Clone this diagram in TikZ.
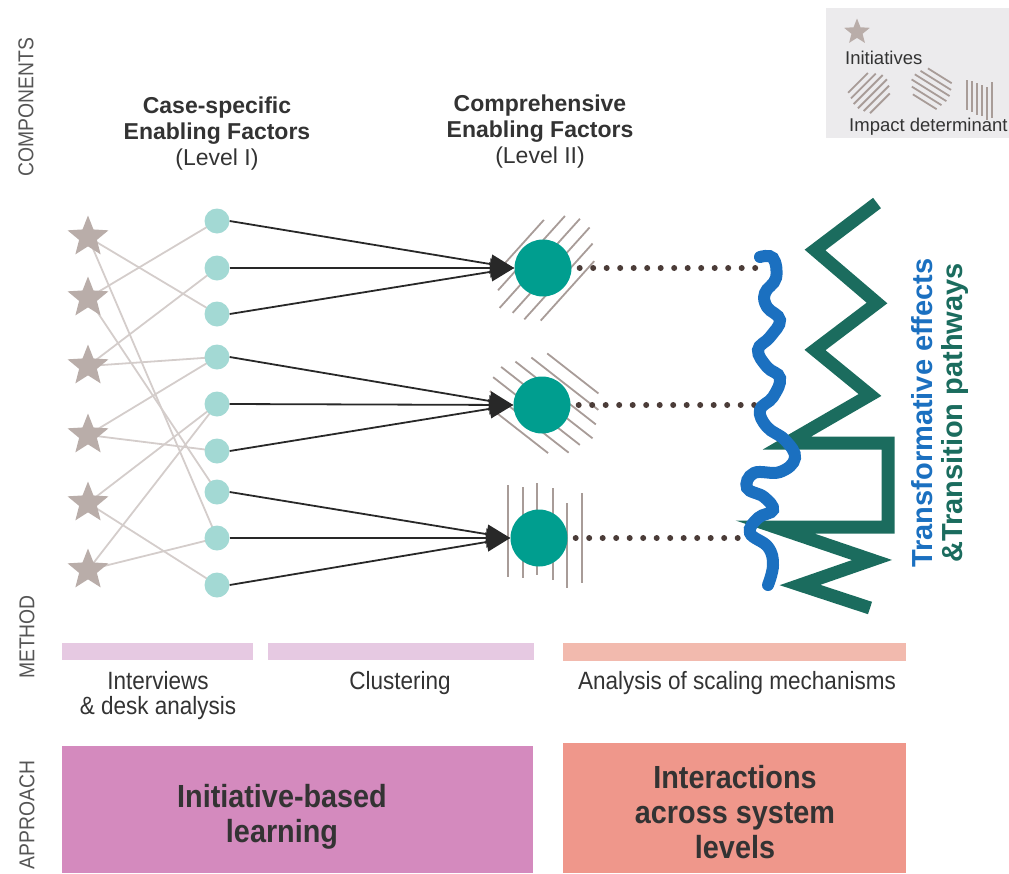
\documentclass[tikz,border=0pt]{standalone}
\usepackage{fontspec}
\setmainfont{Liberation Sans}
\newfontfamily\narrowfont[FakeStretch=0.9]{Liberation Sans}
\usetikzlibrary{arrows.meta,shapes.geometric,calc,backgrounds}
\definecolor{starc}{RGB}{185,173,169}
\definecolor{smallc}{RGB}{163,217,212}
\definecolor{bigc}{RGB}{0,158,143}
\definecolor{hatchc}{RGB}{168,156,152}
\definecolor{linkc}{RGB}{212,205,203}
\definecolor{arrowc}{RGB}{40,40,40}
\definecolor{dotc}{RGB}{75,60,56}
\definecolor{bluec}{RGB}{27,112,192}
\definecolor{greenc}{RGB}{27,108,94}
\definecolor{mpink}{RGB}{230,201,226}
\definecolor{msalmon}{RGB}{242,186,174}
\definecolor{apurple}{RGB}{212,138,190}
\definecolor{asalmon}{RGB}{239,151,139}
\definecolor{textc}{RGB}{51,51,51}
\definecolor{legbg}{RGB}{236,235,237}
\definecolor{sidec}{RGB}{85,85,85}
\tikzset{
  starnode/.style={star, star points=5, star point ratio=2.3, fill=starc, minimum size=43pt, inner sep=0pt},
  smallnode/.style={circle, fill=smallc, minimum size=25pt, inner sep=0pt},
  bignode/.style={circle, fill=bigc, minimum size=57pt, inner sep=0pt},
  link/.style={draw=linkc, line width=1.8pt},
  arr/.style={draw=arrowc, line width=1.8pt, -{Triangle[length=24pt,width=19pt]}},
  hatch/.style={draw=hatchc, line width=1.8pt},
  dotline/.style={draw=dotc, line width=6pt, line cap=round, dash pattern=on 0pt off 13.5pt, shorten <=8pt},
  hdr/.style={align=center, text=textc, font=\fontsize{23}{26}\selectfont, inner sep=0pt},
  side/.style={rotate=90, text=sidec, font=\narrowfont\fontsize{21.5}{24}\selectfont, inner sep=0pt},
  mlabel/.style={align=center, text=textc, font=\narrowfont\fontsize{25}{25}\selectfont, inner sep=0pt},
  alabel/.style={align=center, text=textc, font=\narrowfont\bfseries\fontsize{32}{35}\selectfont, inner sep=0pt},
}
\begin{document}
\begin{tikzpicture}[x=1pt,y=-1pt]
\useasboundingbox (0,0) rectangle (1009,873);
% side labels
\node[side] (lcomp) at (26,107) {COMPONENTS};
\node[side] (lmeth) at (27,637) {METHOD};
\node[side] (lappr) at (27,815) {APPROACH};
% headers
\node[hdr] (h1) at (217,134) {\textbf{Case-specific}\\\textbf{Enabling Factors}\\(Level I)};
\node[hdr] (h2) at (540,132) {\textbf{Comprehensive}\\\textbf{Enabling Factors}\\(Level II)};
% legend
\fill[legbg] (826,8) rectangle (1009,138);
\node[star, star points=5, star point ratio=2.3, fill=starc, minimum size=27pt, inner sep=0pt] (lstar) at (857,32) {};
\node[anchor=west, text=textc, font=\fontsize{18.5}{20}\selectfont, inner sep=0pt] (linit) at (845,58) {Initiatives};
\node[anchor=west, text=textc, font=\fontsize{18.5}{20}\selectfont, inner sep=0pt] (limp) at (849,127) {Impact determinant};
\begin{scope}[shift={(870,92)}, rotate=-45]
  \foreach \x/\a/\b in {-15/-12/16, -9/-17/18, -3/-21/20, 3/-21/20, 9/-18/18, 15/-13/15} \draw[hatch] (\x,\a) -- (\x,\b);
\end{scope}
\begin{scope}[shift={(931,88)}, rotate=58]
  \foreach \x/\a/\b in {-15/-12/16, -9/-17/18, -3/-21/20, 3/-21/20, 9/-18/18, 15/-13/15} \draw[hatch] (\x,\a) -- (\x,\b);
\end{scope}
\begin{scope}[shift={(980,98)}]
  \foreach \x/\a/\b in {-13/-18/12, -8/-17/14, -3/-15/17, 2/-13/18, 7/-11/22, 12/-16/20} \draw[hatch] (\x,\a) -- (\x,\b);
\end{scope}
% stars
\node[starnode] (s1) at (88,237) {};
\node[starnode] (s2) at (88,298) {};
\node[starnode] (s3) at (88,366) {};
\node[starnode] (s4) at (88,435) {};
\node[starnode] (s5) at (88,503) {};
\node[starnode] (s6) at (88,570) {};
% small circles
\node[smallnode] (c1) at (217,221) {};
\node[smallnode] (c2) at (217,268) {};
\node[smallnode] (c3) at (217,314) {};
\node[smallnode] (c4) at (217,357) {};
\node[smallnode] (c5) at (217,404) {};
\node[smallnode] (c6) at (217,451) {};
\node[smallnode] (c7) at (217,492) {};
\node[smallnode] (c8) at (217,538) {};
\node[smallnode] (c9) at (217,585) {};
\begin{pgfonlayer}{background}
\foreach \s/\c in {s1/c3, s1/c8, s2/c1, s2/c7, s3/c2, s3/c4, s4/c4, s4/c6, s5/c5, s5/c9, s6/c5, s6/c8}
  \draw[link] (\s.center) -- (\c.center);
\end{pgfonlayer}
% hatching around big circles
\begin{scope}[shift={(545,268)}, rotate=-42]
  \foreach \x/\a/\b in {-33/-35/38, -20/-52/48, -7/-60/60, 6/-60/55, 19/-50/52, 32/-38/42} \draw[hatch] (\x,\a) -- (\x,\b);
\end{scope}
\begin{scope}[shift={(545,405)}, rotate=52]
  \foreach \x/\a/\b in {-36/-38/32, -23/-52/48, -10/-58/52, 3/-58/58, 16/-50/52, 29/-40/45, 42/-30/35} \draw[hatch] (\x,\a) -- (\x,\b);
\end{scope}
\begin{scope}[shift={(539,538)}]
  \foreach \x/\a/\b in {-31/-53/39, -16/-51/40, -2/-55/37, 14/-50/42, 28/-35/50, 43/-45/45} \draw[hatch] (\x,\a) -- (\x,\b);
\end{scope}
% big circles
\node[bignode] (b1) at (543,268) {};
\node[bignode] (b2) at (542,405) {};
\node[bignode] (b3) at (539,538) {};
% arrows
\foreach \c/\b in {c1/b1, c2/b1, c3/b1, c4/b2, c5/b2, c6/b2, c7/b3, c8/b3, c9/b3}
  \draw[arr] (\c.east) -- (\b.west);
% dotted connectors
\coordinate (e1) at (757,268);
\coordinate (e2) at (757,405);
\coordinate (e3) at (757,538);
\draw[dotline] (b1.east) -- (e1);
\draw[dotline] (b2.east) -- (e2);
\draw[dotline] (b3.east) -- (e3);
% green zigzag
\draw[greenc, line width=13pt, line join=miter, miter limit=10]
  (877,203) -- (815,250) -- (877,303) -- (815,350) -- (870,395) -- (787,443) -- (888,443) -- (888,527) -- (775,527) -- (872,560) -- (800,585) -- (870,608);
% blue wave
\draw[bluec, line width=12pt, line cap=round]
  plot[smooth, tension=0.7] coordinates {(760,257) (773,258) (776,278) (765,293) (767,307) (780,320) (770,337) (758,350) (767,367) (780,378) (773,397) (760,410) (767,427) (785,440) (795,458) (780,472) (754,473) (747,488) (764,497) (773,510) (758,518) (750,533) (768,547) (773,565) (768,585)};
% rotated titles
\node[rotate=90, text=bluec, font=\bfseries\fontsize{29}{30}\selectfont, inner sep=0pt] (tt1) at (922,413) {Transformative effects};
\node[rotate=90, text=greenc, font=\bfseries\fontsize{29}{30}\selectfont, inner sep=0pt] (tt2) at (955,413) {\&Transition pathways};
% method bars
\fill[mpink] (62,643) rectangle (253,660);
\fill[mpink] (268,643) rectangle (534,660);
\fill[msalmon] (563,643) rectangle (906,661);
\node[mlabel] (m1) at (158,696) {Interviews\\\& desk analysis};
\node[mlabel] (m2) at (400,683) {Clustering};
\node[mlabel] (m3) at (737,683) {Analysis of scaling mechanisms};
% approach boxes
\fill[apurple] (62,746) rectangle (533,873);
\fill[asalmon] (563,743) rectangle (906,873);
\node[alabel] (a1) at (282,817) {Initiative-based\\learning};
\node[alabel] (a2) at (735,812) {Interactions\\across system\\levels};
\end{tikzpicture}
\end{document}
